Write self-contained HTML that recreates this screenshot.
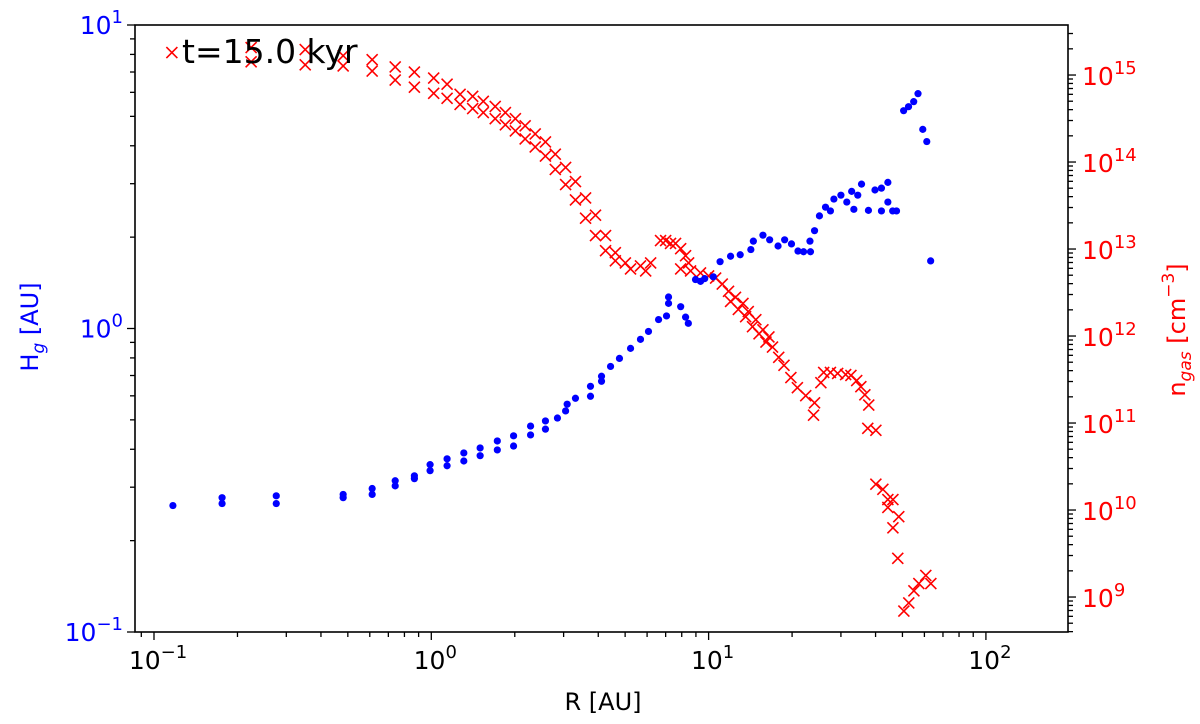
<!DOCTYPE html>
<html><head><meta charset="utf-8"><style>
html,body{margin:0;padding:0;background:#fff;}
svg{display:block;font-family:"DejaVu Sans","Liberation Sans",sans-serif;}
</style></head><body>
<div style="position:relative;width:1200px;height:724px;">
<svg id="chart" width="1200" height="724" viewBox="0 0 1200 724" style="position:absolute;left:0;top:0;">
<text x="182" y="63" font-size="33" fill="#000">t=15.0 kyr</text>
<text x="603" y="710" font-size="24" text-anchor="middle" fill="#000">R [AU]</text>
<text transform="translate(38,327) rotate(-90)" font-size="24" text-anchor="middle" fill="#0000ff">H<tspan font-size="17" font-style="italic" dy="6">g</tspan><tspan dy="-6"> [AU]</tspan></text>
<text transform="translate(1185,330) rotate(-90)" font-size="24" text-anchor="middle" fill="#ff0000">n<tspan font-size="17" font-style="italic" dy="6">gas</tspan><tspan dy="-6"> [cm</tspan><tspan font-size="17" dy="-11">−3</tspan><tspan dy="11">]</tspan></text>
</svg>
</div>
<script>
const blueR=[0.117,0.176,0.176,0.276,0.276,0.481,0.481,0.612,0.612,0.741,0.741,0.869,0.869,0.99,0.99,1.14,1.14,1.31,1.31,1.50,1.50,1.73,1.73,1.98,1.98,2.28,2.28,2.58,2.58,2.85,3.05,3.09,3.31,3.75,3.75,4.11,4.11,4.43,4.77,5.23,5.68,6.07,6.60,7.05,7.17,7.17,7.93,8.26,8.45,8.97,9.35,9.68,10.4,11.0,12.0,13.0,14.2,14.5,15.7,16.6,17.8,18.8,19.9,21.0,22.0,23.3,23.2,24.1,25.1,26.4,27.5,28.3,30.0,31.5,32.8,33.4,34.5,35.6,37.7,39.8,42.0,42.0,44.3,44.3,46.1,47.6,50.5,52.6,54.9,56.9,59.2,61.2,63.2];
const blueH=[0.261,0.277,0.265,0.281,0.265,0.284,0.277,0.297,0.284,0.315,0.303,0.327,0.320,0.340,0.356,0.353,0.372,0.366,0.389,0.381,0.404,0.398,0.426,0.410,0.443,0.446,0.477,0.466,0.496,0.507,0.535,0.563,0.589,0.645,0.598,0.696,0.670,0.750,0.797,0.860,0.921,0.978,1.07,1.10,1.21,1.27,1.18,1.09,1.04,1.45,1.43,1.46,1.48,1.66,1.73,1.75,1.82,1.94,2.03,1.96,1.87,1.96,1.90,1.80,1.79,1.79,1.94,2.10,2.35,2.51,2.44,2.67,2.75,2.61,2.83,2.47,2.75,2.99,2.45,2.86,2.90,2.44,3.03,2.61,2.44,2.44,5.22,5.38,5.59,5.94,4.53,4.13,1.67];
const redR=[0.116,0.224,0.224,0.351,0.351,0.481,0.481,0.612,0.612,0.741,0.741,0.869,0.869,1.02,1.02,1.14,1.14,1.27,1.27,1.41,1.41,1.54,1.54,1.70,1.70,1.85,1.85,2.01,2.01,2.18,2.18,2.37,2.37,2.58,2.58,2.80,2.80,3.05,3.05,3.31,3.31,3.60,3.60,3.91,3.91,4.25,4.25,4.61,4.61,5.01,5.23,5.68,5.93,6.18,6.71,7.00,7.29,7.60,7.93,8.26,8.47,7.93,8.61,9.35,10.0,10.6,11.2,11.8,12.5,13.3,13.9,14.8,15.7,16.5,12.0,12.8,13.6,14.4,15.2,16.1,17.0,17.9,18.7,19.8,20.9,22.4,24.1,23.9,25.4,26.0,27.5,29.2,31.2,32.6,34.2,35.4,36.6,37.8,37.5,40.1,40.1,42.5,44.3,46.2,44.3,48.5,46.2,48.1,60.7,63.3,57.3,55.0,52.7,50.6];
const redN=[1.81e15,2.07e15,1.42e15,1.96e15,1.31e15,1.67e15,1.27e15,1.50e15,1.11e15,1.24e15,8.74e14,1.08e15,7.24e14,9.22e14,6.17e14,7.85e14,5.40e14,6.00e14,4.59e14,5.69e14,4.12e14,4.98e14,3.70e14,4.35e14,3.15e14,3.70e14,2.68e14,3.15e14,2.28e14,2.61e14,1.84e14,2.10e14,1.49e14,1.70e14,1.17e14,1.23e14,8.22e13,8.67e13,5.50e13,5.96e13,3.67e13,3.87e13,2.26e13,2.45e13,1.43e13,1.43e13,9.57e12,9.08e12,7.33e12,6.93e12,5.90e12,6.40e12,5.60e12,6.93e12,1.25e13,1.25e13,1.16e13,1.16e13,1.01e13,8.38e12,6.93e12,5.90e12,5.60e12,5.31e12,4.90e12,4.64e12,3.95e12,3.27e12,2.79e12,2.37e12,1.91e12,1.54e12,1.18e12,9.77e11,2.50e12,2.02e12,1.67e12,1.28e12,1.06e12,8.53e11,7.46e11,5.70e11,4.60e11,3.33e11,2.55e11,2.06e11,1.71e11,1.23e11,2.91e11,3.81e11,3.81e11,3.71e11,3.61e11,3.52e11,3.08e11,2.62e11,2.11e11,1.61e11,8.69e10,8.24e10,1.98e10,1.73e10,1.32e10,1.32e10,1.07e10,8.39e9,6.25e9,2.79e9,1.77e9,1.43e9,1.43e9,1.18e9,8.55e8,6.90e8];
const xTickExp=[-1,0,1,2];
const hTickExp=[-1,0,1];
const nTickExp=[9,10,11,12,13,14,15];

const L=135,R=1068,T=25,B=632;
const xMin=-1.0685,xMax=2.296;
const hMin=-1,hMax=1;
const nMin=8.598,nMax=15.575;
const X=v=>L+(Math.log10(v)-xMin)/(xMax-xMin)*(R-L);
const YH=v=>B-(Math.log10(v)-hMin)/(hMax-hMin)*(B-T);
const YN=v=>B-(Math.log10(v)-nMin)/(nMax-nMin)*(B-T);
const svg=document.getElementById('chart');
const NS='http://www.w3.org/2000/svg';
const firstText=svg.firstElementChild;
function mk(tag,attrs,parent){const e=document.createElementNS(NS,tag);for(const k in attrs)e.setAttribute(k,attrs[k]);if(parent)parent.appendChild(e);else svg.insertBefore(e,firstText);return e;}

const gR=mk('g',{stroke:'#ff0000','stroke-width':1.6,fill:'none'});


for(let i=0;i<redR.length;i++){const x=X(redR[i]),y=YN(redN[i]),s=5.5;
 const p=mk('path',{d:`M${x-s},${y-s}L${x+s},${y+s}M${x-s},${y+s}L${x+s},${y-s}`},gR);
 
 }
const gB=mk('g',{fill:'#0000ff'});


for(let i=0;i<blueR.length;i++){const c=mk('circle',{cx:X(blueR[i]),cy:YH(blueH[i]),r:3.6},gB);
 
 }

const fr=mk('rect',{x:L,y:T,width:R-L,height:B-T,fill:'none',stroke:'#000','stroke-width':1.6});



function sup(t,base,exp){const tn=mk('tspan',{},t);tn.textContent=base;const s=mk('tspan',{dy:-11,'font-size':18},t);s.textContent=exp;}
for(let d=-2;d<=2;d++){for(let m=1;m<10;m++){const v=m*Math.pow(10,d);const lv=Math.log10(v);if(lv<xMin||lv>xMax)continue;
 const x=X(v);mk('line',{x1:x,y1:B,x2:x,y2:B+(m==1?8:5),stroke:'#000','stroke-width':1.3});}}
xTickExp.forEach(e=>{const t=mk('text',{x:X(Math.pow(10,e))+4,y:B+37,'font-size':25,'text-anchor':'middle',fill:'#000'});
 
 
 sup(t,'10',e<0?'\u2212'+(-e):String(e));});
for(let d=-1;d<=1;d++){for(let m=1;m<10;m++){const v=m*Math.pow(10,d);const lv=Math.log10(v);if(lv<hMin-1e-9||lv>hMax+1e-9)continue;
 const y=YH(v);mk('line',{x1:L,y1:y,x2:L-(m==1?8:5),y2:y,stroke:'#000','stroke-width':1.3});}}
hTickExp.forEach(e=>{const t=mk('text',{x:L-12,y:YH(Math.pow(10,e))+9,'font-size':25,'text-anchor':'end',fill:'#0000ff'});
 
 
 sup(t,'10',e<0?'\u2212'+(-e):String(e));});
for(let d=8;d<=15;d++){for(let m=1;m<10;m++){const v=m*Math.pow(10,d);const lv=Math.log10(v);if(lv<nMin||lv>nMax)continue;
 const y=YN(v);mk('line',{x1:R,y1:y,x2:R+(m==1?8:5),y2:y,stroke:'#000','stroke-width':1.3});}}
nTickExp.forEach(e=>{const t=mk('text',{x:R+14,y:YN(Math.pow(10,e))+10,'font-size':25,'text-anchor':'start',fill:'#ff0000'});
 
 
 sup(t,'10',String(e));});
</script>
</body></html>
